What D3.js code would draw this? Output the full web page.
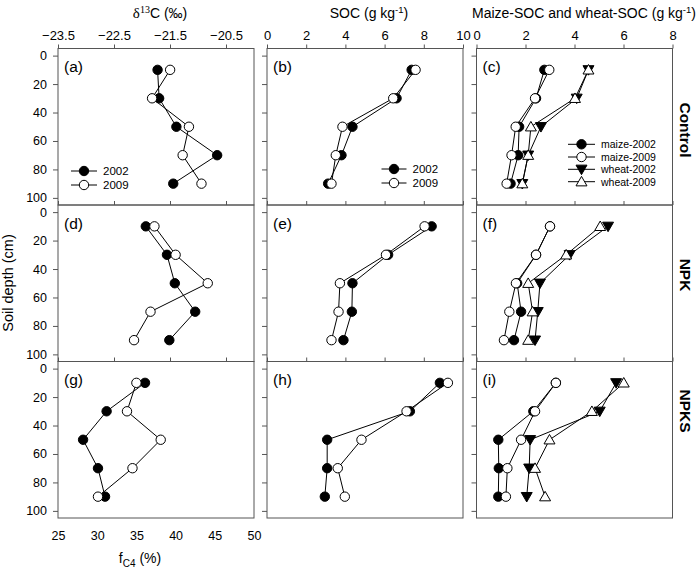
<!DOCTYPE html>
<html>
<head>
<meta charset="utf-8">
<script src="https://cdn.jsdelivr.net/npm/d3@7"></script>
<style>
  html, body { margin: 0; padding: 0; background: #fff; }
  svg { display: block; font-family: "Liberation Sans", Arial, sans-serif; }
</style>
</head>
<body>
<svg id="chart" width="700" height="569"></svg>
<script>
// ---------------- DATA ----------------
const depths = [10, 30, 50, 70, 90];
const treatments = ["Control", "NPK", "NPKS"];
const panelLetters = [["(a)", "(b)", "(c)"], ["(d)", "(e)", "(f)"], ["(g)", "(h)", "(i)"]];

// column 1: fC4 (%)  (top axis delta13C)
const fc4Control2002 = [37.7, 37.9, 40.1, 45.3, 39.7];
const fc4Control2009 = [39.3, 37.0, 41.7, 40.9, 43.3];
const fc4NPK2002 = [36.2, 38.9, 39.9, 42.5, 39.2];
const fc4NPK2009 = [37.3, 40.0, 44.1, 36.8, 34.7];
const fc4NPKS2002 = [36.1, 31.2, 28.2, 30.1, 31.0];
const fc4NPKS2009 = [35.0, 33.8, 38.1, 34.5, 30.1];

// column 2: SOC (g/kg)
const socControl2002 = [7.38, 6.61, 4.36, 3.80, 3.12];
const socControl2009 = [7.58, 6.44, 3.85, 3.51, 3.29];
const socNPK2002 = [8.40, 6.18, 4.36, 4.33, 3.90];
const socNPK2009 = [8.04, 6.07, 3.72, 3.65, 3.29];
const socNPKS2002 = [8.82, 7.29, 3.07, 3.07, 2.95];
const socNPKS2009 = [9.23, 7.12, 4.82, 3.61, 3.97];

// column 3: maize-SOC and wheat-SOC (g/kg)
const maizeControl2002 = [2.77, 2.43, 1.74, 1.70, 1.39];
const maizeControl2009 = [2.97, 2.39, 1.60, 1.43, 1.23];
const wheatControl2002 = [4.57, 4.09, 2.63, 2.11, 1.87];
const wheatControl2009 = [4.57, 4.02, 2.22, 2.11, 1.87];
const maizeNPK2002 = [3.00, 2.43, 1.66, 1.82, 1.53];
const maizeNPK2009 = [3.00, 2.43, 1.61, 1.34, 1.12];
const wheatNPK2002 = [5.37, 3.80, 2.59, 2.50, 2.39];
const wheatNPK2009 = [5.05, 3.66, 2.11, 2.29, 2.11];
const maizeNPKS2002 = [3.24, 2.32, 0.89, 0.91, 0.89];
const maizeNPKS2009 = [3.24, 2.39, 1.82, 1.26, 1.20];
const wheatNPKS2002 = [5.70, 5.03, 2.19, 2.15, 2.05];
const wheatNPKS2009 = [6.01, 4.71, 2.98, 2.39, 2.80];

// tick labels
const depthTicks = [0, 20, 40, 60, 80, 100];
const d13cTicks = [-23.5, -22.5, -21.5, -20.5];
const fc4Ticks = [25, 30, 35, 40, 45, 50];
const socTicks = [0, 2, 4, 6, 8, 10];
const partTicks = [0, 2, 4, 6, 8];

const yearLabels = ["2002", "2009"];
const partLabels = ["maize-2002", "maize-2009", "wheat-2002", "wheat-2009"];

// ---------------- LAYOUT ----------------
const svg = d3.select("#chart");
const colX = [58, 267, 476.5];
const colW = 196;
const rowTop = 48.5;
const rowH = 156.5;
const frameColor = "#555";

const y = d3.scaleLinear().domain([-5, 105]).range([0, rowH]);
const xFc4 = d3.scaleLinear().domain([25, 50]).range([0, colW]);
const xD13 = d3.scaleLinear().domain([-23.5, -20]).range([0, colW]);
const xSoc = d3.scaleLinear().domain([0, 10]).range([0, colW]);
const xPart = d3.scaleLinear().domain([0, 8]).range([0, colW]);

const col1Data = [[fc4Control2002, fc4Control2009], [fc4NPK2002, fc4NPK2009], [fc4NPKS2002, fc4NPKS2009]];
const col2Data = [[socControl2002, socControl2009], [socNPK2002, socNPK2009], [socNPKS2002, socNPKS2009]];
const col3Data = [
  [maizeControl2002, maizeControl2009, wheatControl2002, wheatControl2009],
  [maizeNPK2002, maizeNPK2009, wheatNPK2002, wheatNPK2009],
  [maizeNPKS2002, maizeNPKS2009, wheatNPKS2002, wheatNPKS2009]
];

const markerStyles = [
  { shape: "circle", fill: "#000" },
  { shape: "circle", fill: "#fff" },
  { shape: "down", fill: "#000" },
  { shape: "up", fill: "#fff" }
];

function drawMarker(g, cx, cy, style) {
  if (style.shape === "circle") {
    g.append("circle").attr("cx", cx).attr("cy", cy).attr("r", 4.7)
      .attr("fill", style.fill).attr("stroke", "#000").attr("stroke-width", 1);
  } else {
    const sym = d3.symbol().type(d3.symbolTriangle).size(52);
    const rot = style.shape === "down" ? 180 : 0;
    const dy = style.shape === "down" ? -1 : 1;
    g.append("path").attr("d", sym())
      .attr("transform", `translate(${cx},${cy + dy}) rotate(${rot})`)
      .attr("fill", style.fill).attr("stroke", "#000").attr("stroke-width", 1);
  }
}

function styleAxis(g, fs) {
  g.select(".domain").remove();
  g.selectAll(".tick line").attr("stroke", frameColor);
  g.selectAll(".tick text").attr("fill", "#000").attr("font-size", fs)
    .attr("font-family", "Liberation Sans, Arial, sans-serif");
}

const lineGen = (xs) => d3.line().x((d) => xs(d.v)).y((d) => y(d.depth));

for (let r = 0; r < 3; r++) {
  for (let c = 0; c < 3; c++) {
    const g = svg.append("g").attr("transform", `translate(${colX[c]},${rowTop + r * rowH})`);
    const xs = c === 0 ? xFc4 : c === 1 ? xSoc : xPart;
    const topScale = c === 0 ? xD13 : xs;
    const topTicks = c === 0 ? d13cTicks : c === 1 ? socTicks : partTicks;

    const ta = g.append("g").call(
      d3.axisTop(topScale).tickValues(topTicks).tickSize(4).tickPadding(5)
        .tickFormat(r === 0 ? d3.format("") : () => "")
    );
    styleAxis(ta, 13);

    const la = g.append("g").call(
      d3.axisLeft(y).tickValues(depthTicks).tickSize(5).tickPadding(6)
        .tickFormat(c === 0 ? d3.format("") : () => "")
    );
    styleAxis(la, 12.5);

    if (r === 2 && c === 0) {
      const ba = g.append("g").attr("transform", `translate(0,${rowH})`).call(
        d3.axisBottom(xFc4).tickValues(fc4Ticks).tickSize(0).tickPadding(13)
      );
      styleAxis(ba, 12.5);
    }

    g.append("rect").attr("x", 0).attr("y", 0).attr("width", colW).attr("height", rowH)
      .attr("fill", "none").attr("stroke", frameColor).attr("stroke-width", 1);

    const seriesList = c === 0 ? col1Data[r] : c === 1 ? col2Data[r] : col3Data[r];
    seriesList.forEach((vals) => {
      const pts = vals.map((v, k) => ({ v: v, depth: depths[k] }));
      g.append("path").datum(pts).attr("d", lineGen(xs))
        .attr("fill", "none").attr("stroke", "#000").attr("stroke-width", 1);
    });
    seriesList.forEach((vals, i) => {
      const st = markerStyles[i];
      vals.forEach((v, k) => drawMarker(g, xs(v), y(depths[k]), st));
    });

    g.append("text").attr("x", 6).attr("y", 23.5).attr("font-size", 15.5)
      .attr("fill", "#000").text(panelLetters[r][c]);
  }
}

function legend(x0, yList, labels, styles, lineLen, fs) {
  labels.forEach((lab, i) => {
    const g = svg.append("g");
    const yy = yList[i];
    g.append("line").attr("x1", x0).attr("x2", x0 + lineLen).attr("y1", yy).attr("y2", yy)
      .attr("stroke", "#000").attr("stroke-width", 1);
    drawMarker(g, x0 + lineLen / 2, yy, styles[i]);
    g.append("text").attr("x", x0 + lineLen + 6).attr("y", yy + 4).attr("font-size", fs)
      .attr("fill", "#000").text(lab);
  });
}
legend(71, [171, 185], yearLabels, markerStyles, 26, 11.5);
legend(381.5, [169, 183], yearLabels, markerStyles, 25, 11.5);
legend(568, [144.3, 157, 169.3, 181.7], partLabels, markerStyles, 27, 10.5);

const serif = "Liberation Serif, Times New Roman, serif";
const t1 = svg.append("text").attr("x", 160).attr("y", 18).attr("text-anchor", "middle")
  .attr("font-size", 14).attr("fill", "#000");
t1.append("tspan").attr("font-family", serif).attr("font-size", 15).text("δ");
t1.append("tspan").attr("font-family", serif).attr("font-size", 10).attr("dy", -5).text("13");
t1.append("tspan").attr("dy", 5).text("C (‰)");

const t2 = svg.append("text").attr("x", 369).attr("y", 18).attr("text-anchor", "middle")
  .attr("font-size", 14).attr("fill", "#000");
t2.append("tspan").text("SOC (g kg");
t2.append("tspan").attr("font-size", 9.5).attr("dy", -5).text("-1");
t2.append("tspan").attr("dy", 5).text(")");

const t3 = svg.append("text").attr("x", 584).attr("y", 18).attr("text-anchor", "middle")
  .attr("font-size", 14).attr("fill", "#000");
t3.append("tspan").text("Maize-SOC and wheat-SOC (g kg");
t3.append("tspan").attr("font-size", 9.5).attr("dy", -5).text("-1");
t3.append("tspan").attr("dy", 5).text(")");

const t4 = svg.append("text").attr("x", 140).attr("y", 563).attr("text-anchor", "middle")
  .attr("font-size", 14).attr("fill", "#000");
t4.append("tspan").text("f");
t4.append("tspan").attr("font-size", 10).attr("dy", 4).text("C4");
t4.append("tspan").attr("dy", -4).text(" (%)");

svg.append("text").attr("transform", "translate(12.5,283) rotate(-90)")
  .attr("text-anchor", "middle").attr("font-size", 14.5).attr("fill", "#000").text("Soil depth (cm)");

const rowLabelY = [130, 275, 411];
treatments.forEach((t, i) => {
  svg.append("text").attr("transform", `translate(680,${rowLabelY[i]}) rotate(90)`)
    .attr("text-anchor", "middle").attr("font-size", 15.5).attr("font-weight", "bold")
    .attr("fill", "#000").text(t);
});
</script>
</body>
</html>
